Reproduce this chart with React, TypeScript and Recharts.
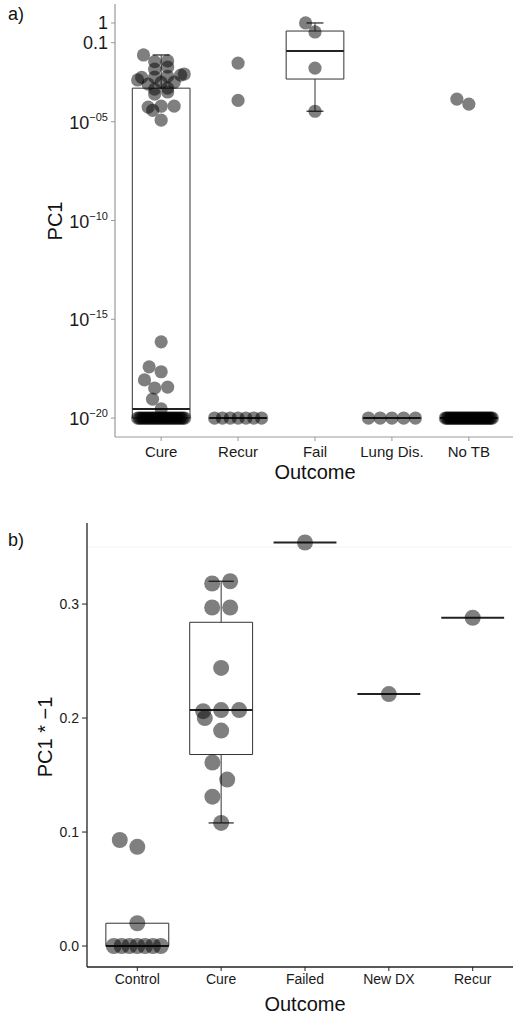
import React from 'react';
import { ScatterChart, Scatter, XAxis, YAxis, ReferenceArea, ReferenceLine } from 'recharts';

const FONT = '"Liberation Sans", Arial, Helvetica, sans-serif';

// ---------------- Panel a) ----------------
const outcomesA = ['Cure', 'Recur', 'Fail', 'Lung Dis.', 'No TB'];
const cureA = [
  2.4e-2, 1.2e-2, 1.1e-2, 5.8e-3, 4.6e-3, 2.6e-3, 2.3e-3, 2.0e-3, 1.8e-3, 1.75e-3,
  1.3e-3, 1.0e-3, 9.8e-4, 8.0e-4, 5.0e-4, 4.5e-4, 3.2e-4, 2.5e-4, 6.2e-5, 6.1e-5,
  5.5e-5, 3.8e-5, 1.2e-5,
  7.2e-17, 3.9e-18, 2.2e-18, 8.5e-19, 3.7e-19, 3.3e-19, 9e-20, 2.9e-20,
  1e-20, 1e-20, 1e-20, 1e-20, 1e-20, 1e-20, 1e-20, 1e-20, 1e-20, 1e-20,
  1e-20, 1e-20, 1e-20, 1e-20, 1e-20, 1e-20, 1e-20, 1e-20, 1e-20, 1e-20,
  1e-20, 1e-20, 1e-20, 1e-20, 1e-20, 1e-20, 1e-20, 1e-20, 1e-20, 1e-20,
];
const recurA = [9.3e-3, 1.2e-4, 1e-20, 1e-20, 1e-20, 1e-20, 1e-20, 1e-20, 1e-20];
const failA = [1.0, 0.35, 5.2e-3, 3.4e-5];
const lungA = [1e-20, 1e-20, 1e-20, 1e-20, 1e-20];
const noTbA = [
  1.4e-4, 7.8e-5,
  1e-20, 1e-20, 1e-20, 1e-20, 1e-20, 1e-20, 1e-20, 1e-20, 1e-20, 1e-20,
  1e-20, 1e-20, 1e-20, 1e-20, 1e-20, 1e-20, 1e-20, 1e-20, 1e-20, 1e-20,
  1e-20, 1e-20, 1e-20, 1e-20, 1e-20, 1e-20, 1e-20, 1e-20, 1e-20, 1e-20,
  1e-20, 1e-20, 1e-20, 1e-20, 1e-20, 1e-20,
];
const boxLowA = [1e-20, 1e-20, 3.4e-5, 1e-20, 1e-20];
const boxQ1A = [1e-20, 1e-20, 1.45e-3, 1e-20, 1e-20];
const boxMedA = [2.9e-20, 1e-20, 3.8e-2, 1e-20, 1e-20];
const boxQ3A = [5.0e-4, 1e-20, 0.39, 1e-20, 1e-20];
const boxHighA = [2.4e-2, 1e-20, 1.0, 1e-20, 1e-20];
const yTicksA = [1e-20, 1e-15, 1e-10, 1e-5, 0.1, 1];

// ---------------- Panel b) ----------------
const outcomesB = ['Control', 'Cure', 'Failed', 'New DX', 'Recur'];
const controlB = [0.093, 0.087, 0.020, 0, 0, 0, 0, 0, 0, 0];
const cureB = [0.320, 0.318, 0.297, 0.297, 0.244, 0.207, 0.207, 0.206, 0.200, 0.189, 0.161, 0.146, 0.131, 0.108];
const failedB = [0.354];
const newDxB = [0.221];
const recurB = [0.288];
const boxLowB = [0, 0.108, 0.354, 0.221, 0.288];
const boxQ1B = [0, 0.168, 0.354, 0.221, 0.288];
const boxMedB = [0, 0.207, 0.354, 0.221, 0.288];
const boxQ3B = [0.020, 0.284, 0.354, 0.221, 0.288];
const boxHighB = [0.020, 0.320, 0.354, 0.221, 0.288];
const yTicksB = [0, 0.1, 0.2, 0.3];

// ---------------- layout constants ----------------
const A_PLOT_H = 433;
const A_DOMAIN: [number, number] = [Math.pow(10, -20.96), Math.pow(10, 0.96)];
const A_PX_PER_X = 400 / 5.2;
const B_PLOT_H = 444;
const B_DOMAIN: [number, number] = [-0.0184, 0.3711];
const B_PX_PER_X = 436 / 5.2;

// beeswarm layout (pixel space), computed from values, placed in ascending order
function swarm(values: number[], toPx: (v: number) => number, dx: number, dy: number, limit: number, rowTol: number): number[] {
  const n = values.length;
  const py = values.map(toPx);
  const off = new Array(n).fill(0);
  const idx = values.map((_, i) => i).sort((a, b) => py[b] - py[a]);
  const rows: number[][] = [];
  let k = 0;
  while (k < idx.length) {
    const row = [idx[k]];
    let j = k + 1;
    while (j < idx.length && Math.abs(py[idx[j]] - py[idx[k]]) <= rowTol) { row.push(idx[j]); j++; }
    rows.push(row);
    k = j;
  }
  const placed: number[] = [];
  rows.forEach((row) => {
    if (row.length > 1) {
      const sp = Math.min(dx, (2 * limit) / (row.length - 1));
      row.forEach((id, r) => {
        off[id] = (r - (row.length - 1) / 2) * sp;
        if (row.length <= 3) placed.push(id);
      });
      return;
    }
    const id = row[0];
    const cands = [0, -limit, limit];
    placed.forEach((p) => {
      const dv = (py[id] - py[p]) / dy;
      if (Math.abs(dv) < 1) {
        const h = Math.sqrt(1 - dv * dv) * dx;
        cands.push(off[p] - h, off[p] + h);
      }
    });
    let best = 0, bestPen = Infinity, bestAbs = Infinity;
    cands.forEach((c) => {
      if (Math.abs(c) > limit + 1e-9) return;
      let pen = 0;
      placed.forEach((p) => {
        const u = (c - off[p]) / dx, v = (py[id] - py[p]) / dy;
        const d2 = u * u + v * v;
        if (d2 < 1 - 1e-6) pen += 1 - d2;
      });
      if (pen < bestPen - 1e-9 || (Math.abs(pen - bestPen) <= 1e-9 && Math.abs(c) < bestAbs - 1e-9)) {
        best = c; bestPen = pen; bestAbs = Math.abs(c);
      }
    });
    off[id] = best;
    placed.push(id);
  });
  return off;
}

const pxPerDecadeA = A_PLOT_H / (Math.log10(A_DOMAIN[1]) - Math.log10(A_DOMAIN[0]));
const pxPerUnitB = B_PLOT_H / (B_DOMAIN[1] - B_DOMAIN[0]);

function buildPoints(groups: number[][], toPx: (v: number) => number, pxPerX: number, dx: number, dy: number) {
  const pts: { x: number; y: number }[] = [];
  groups.forEach((g, gi) => {
    const off = swarm(g, toPx, dx, dy, 23.5, 2.5);
    g.forEach((v, i) => pts.push({ x: gi + 1 + off[i] / pxPerX, y: v }));
  });
  return pts;
}

const pointsA = buildPoints([cureA, recurA, failA, lungA, noTbA], (v) => -Math.log10(v) * pxPerDecadeA, A_PX_PER_X, 13, 13);
const pointsB = buildPoints([controlB, cureB, failedB, newDxB, recurB], (v) => -v * pxPerUnitB, B_PX_PER_X, 18, 30);

const dotA = (p: any) => <circle cx={p.cx} cy={p.cy} r={6.6} fill="#000" fillOpacity={0.5} />;
const dotB = (p: any) => <circle cx={p.cx} cy={p.cy} r={8} fill="#000" fillOpacity={0.5} />;

function LogTickA(props: any) {
  const { x, y, payload } = props;
  const v: number = payload.value;
  const e = Math.round(Math.log10(v));
  if (e >= -1) {
    return <text x={x} y={y} dy={6} textAnchor="end" fontSize={18} fill="#1a1a1a" fontFamily={FONT}>{String(v)}</text>;
  }
  const ex = '\u2212' + String(-e).padStart(2, '0');
  return (
    <text x={x} y={y} dy={7} textAnchor="end" fill="#1a1a1a" fontFamily={FONT}>
      <tspan fontSize={18}>10</tspan>
      <tspan fontSize={11} dy={-8}>{ex}</tspan>
    </text>
  );
}
function XTickA(props: any) {
  const { x, y, payload } = props;
  return <text x={x} y={y} dy={14} textAnchor="middle" fontSize={15} fill="#1a1a1a" fontFamily={FONT}>{outcomesA[payload.value - 1]}</text>;
}
function YTickB(props: any) {
  const { x, y, payload } = props;
  return <text x={x} y={y} dy={5} textAnchor="end" fontSize={14} fill="#1a1a1a" fontFamily={FONT}>{Number(payload.value).toFixed(1)}</text>;
}
function XTickB(props: any) {
  const { x, y, payload } = props;
  return <text x={x} y={y} dy={11} textAnchor="middle" fontSize={14} fill="#1a1a1a" fontFamily={FONT}>{outcomesB[payload.value - 1]}</text>;
}

function boxElements(low: number[], q1: number[], med: number[], q3: number[], high: number[], capHalf: number, prefix: string) {
  const els: React.ReactNode[] = [];
  const BOX = '#333';
  med.forEach((m, i) => {
    const c = i + 1;
    if (q3[i] !== q1[i]) {
      els.push(<ReferenceArea key={prefix + 'box' + i} x1={c - 0.375} x2={c + 0.375} y1={q1[i]} y2={q3[i]} fill="none" stroke={BOX} strokeWidth={1} ifOverflow="visible" />);
    }
    if (high[i] !== q3[i]) {
      els.push(<ReferenceLine key={prefix + 'wh' + i} segment={[{ x: c, y: q3[i] }, { x: c, y: high[i] }]} stroke={BOX} strokeWidth={1} ifOverflow="visible" />);
      els.push(<ReferenceLine key={prefix + 'ch' + i} segment={[{ x: c - capHalf, y: high[i] }, { x: c + capHalf, y: high[i] }]} stroke={BOX} strokeWidth={1.3} ifOverflow="visible" />);
    }
    if (low[i] !== q1[i]) {
      els.push(<ReferenceLine key={prefix + 'wl' + i} segment={[{ x: c, y: q1[i] }, { x: c, y: low[i] }]} stroke={BOX} strokeWidth={1} ifOverflow="visible" />);
      els.push(<ReferenceLine key={prefix + 'cl' + i} segment={[{ x: c - capHalf, y: low[i] }, { x: c + capHalf, y: low[i] }]} stroke={BOX} strokeWidth={1.3} ifOverflow="visible" />);
    }
    els.push(<ReferenceLine key={prefix + 'md' + i} segment={[{ x: c - 0.375, y: m }, { x: c + 0.375, y: m }]} stroke="#222" strokeWidth={2} ifOverflow="visible" />);
  });
  return els;
}

const abs = (left: number, top: number, size: number, rotate = false): React.CSSProperties => ({
  position: 'absolute', left, top, fontSize: size, fontFamily: FONT, color: '#111', whiteSpace: 'nowrap',
  transform: rotate ? 'translate(-50%, -50%) rotate(-90deg)' : 'translate(-50%, -50%)', lineHeight: 1,
});

export default function App() {
  return (
    <div style={{ position: 'absolute', left: 0, top: 0, width: 513, height: 1017, overflow: 'hidden', background: '#fff' }}>
      <div style={{ position: 'absolute', left: 0, top: 0 }}>
        <ScatterChart width={520} height={490} margin={{ top: 4, right: 5, bottom: 13, left: 0 }}>
          <XAxis type="number" dataKey="x" domain={[0.4, 5.6]} ticks={[1, 2, 3, 4, 5]} allowDataOverflow height={40}
            tick={<XTickA />} tickSize={4} tickMargin={2} axisLine={{ stroke: '#999', strokeWidth: 1.2 }} tickLine={{ stroke: '#999' }} interval={0} />
          <YAxis type="number" dataKey="y" scale="log" domain={A_DOMAIN} ticks={yTicksA} allowDataOverflow width={115}
            tick={<LogTickA />} tickSize={4} tickMargin={3} axisLine={{ stroke: '#999', strokeWidth: 1.2 }} tickLine={{ stroke: '#999' }} interval={0} />
          <Scatter data={pointsA} isAnimationActive={false} shape={dotA} />
          {boxElements(boxLowA, boxQ1A, boxMedA, boxQ3A, boxHighA, 0.11, 'a')}
        </ScatterChart>
      </div>
      <div style={{ position: 'absolute', left: 0, top: 510 }}>
        <ScatterChart width={530} height={507} margin={{ top: 13, right: 7, bottom: 0, left: 0 }}>
          <XAxis type="number" dataKey="x" domain={[0.4, 5.6]} ticks={[1, 2, 3, 4, 5]} allowDataOverflow height={50}
            tick={<XTickB />} tickSize={4} tickMargin={2} axisLine={{ stroke: '#222', strokeWidth: 1.3 }} tickLine={{ stroke: '#222' }} interval={0} />
          <YAxis type="number" dataKey="y" domain={B_DOMAIN} ticks={yTicksB} allowDataOverflow width={87}
            tick={<YTickB />} tickSize={5} tickMargin={3} axisLine={{ stroke: '#222', strokeWidth: 1.3 }} tickLine={{ stroke: '#222' }} interval={0} />
          <ReferenceLine y={0.35} stroke="#f4f4f4" strokeWidth={1} />
          <Scatter data={pointsB} isAnimationActive={false} shape={dotB} />
          {boxElements(boxLowB, boxQ1B, boxMedB, boxQ3B, boxHighB, 0.15, 'b')}
        </ScatterChart>
      </div>
      <div style={abs(16, 14, 18)}>a)</div>
      <div style={abs(55, 221, 20, true)}>PC1</div>
      <div style={abs(315, 472, 20)}>Outcome</div>
      <div style={abs(16, 540, 18)}>b)</div>
      <div style={abs(45, 737, 20, true)}>PC1 * −1</div>
      <div style={abs(305, 1004, 20)}>Outcome</div>
    </div>
  );
}
